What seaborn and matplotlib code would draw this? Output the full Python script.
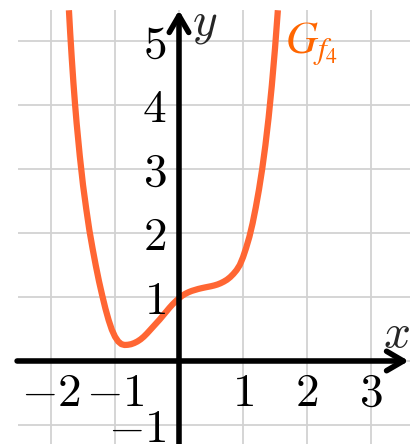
import matplotlib
matplotlib.use("Agg")
import matplotlib.pyplot as plt
import seaborn as sns
import pandas as pd

curve_x = [-1.72, -1.7, -1.675, -1.65, -1.625, -1.6, -1.55, -1.5, -1.45, -1.4,
           -1.35, -1.3, -1.25, -1.2, -1.15, -1.1, -1.05, -1.0, -0.95, -0.9,
           -0.85, -0.8, -0.75, -0.7, -0.65, -0.6, -0.55, -0.5, -0.45, -0.4,
           -0.35, -0.3, -0.25, -0.2, -0.15, -0.1, -0.05, 0.0, 0.05, 0.1,
           0.15, 0.2, 0.25, 0.3, 0.35, 0.4, 0.45, 0.5, 0.55, 0.6,
           0.65, 0.7, 0.75, 0.8, 0.85, 0.9, 0.95, 1.0, 1.05, 1.1,
           1.15, 1.2, 1.25, 1.3, 1.35, 1.4, 1.45, 1.5, 1.545]
curve_y = [5.48, 5.12, 4.72, 4.35, 4.02, 3.72, 3.2, 2.75, 2.38, 2.04,
           1.755, 1.49, 1.245, 1.025, 0.82, 0.64, 0.49, 0.38, 0.305, 0.263,
           0.25, 0.253, 0.262, 0.28, 0.305, 0.338, 0.38, 0.43, 0.485, 0.54,
           0.595, 0.65, 0.71, 0.77, 0.83, 0.885, 0.935, 0.98, 1.02, 1.05,
           1.075, 1.095, 1.11, 1.125, 1.137, 1.148, 1.158, 1.168, 1.18, 1.195,
           1.215, 1.24, 1.27, 1.31, 1.36, 1.42, 1.5, 1.62, 1.77, 1.94,
           2.15, 2.4, 2.68, 3.0, 3.37, 3.8, 4.3, 4.88, 5.48]

x_ticks = [-2, -1, 1, 2, 3]
y_ticks = [-1, 1, 2, 3, 4, 5]
grid_x = [-2, -1, 0, 1, 2, 3]
grid_y = [-1, 0, 1, 2, 3, 4, 5]

curve_color = "#FF6633"
label_color = "#FF6600"

sns.set_theme(style="white")
plt.rcParams["mathtext.fontset"] = "cm"

fig = plt.figure(figsize=(4.17, 4.44), dpi=100)
ax = fig.add_axes([0, 0, 1, 1])
ax.set_xlim(-2.797, 3.719)
ax.set_ylim(-1.297, 5.64)
ax.axis("off")

# grid
ax.hlines(grid_y, -2.52, 3.61, color="#d2d2d2", lw=1.3, zorder=1)
ax.vlines(grid_x, -1.4, 5.48, color="#d2d2d2", lw=1.3, zorder=1)

# curve
df = pd.DataFrame({"x": curve_x, "y": curve_y})
sns.lineplot(data=df, x="x", y="y", sort=False, color=curve_color, lw=4.5,
             ax=ax, zorder=3, solid_capstyle="butt", solid_joinstyle="round")

# axes with arrows
arrow = dict(arrowstyle="->, head_length=0.6, head_width=0.35", lw=4,
             color="black", shrinkA=0, shrinkB=0, mutation_scale=20)
ax.annotate("", xy=(3.59, 0), xytext=(-2.53, 0), arrowprops=arrow, zorder=4)
ax.annotate("", xy=(0, 5.48), xytext=(0, -1.4), arrowprops=arrow, zorder=4)

# tick labels
for v in x_ticks:
    ax.text(v, -0.70, r"$%d$" % v, ha="center", va="baseline",
            fontsize=34, color="black", zorder=5)
for v in y_ticks:
    ax.text(-0.2, v - 0.26, r"$%d$" % v, ha="right", va="baseline",
            fontsize=34, color="black", zorder=5)

ax.text(3.19, 0.22, r"$x$", ha="left", va="baseline", fontsize=34, zorder=5)
ax.text(0.2, 5.1, r"$y$", ha="left", va="baseline", fontsize=34, zorder=5)

ax.text(1.66, 4.81, r"$G_{f_4}$", ha="left", va="baseline", fontsize=32,
        color=label_color, math_fontfamily="stix", zorder=5)

fig.savefig("out.png", dpi=100)
